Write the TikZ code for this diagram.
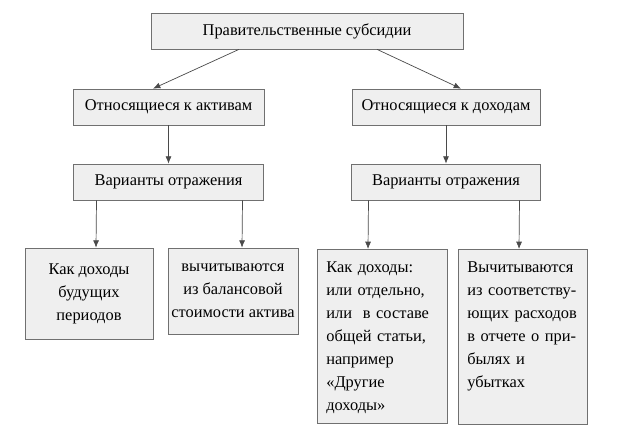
\documentclass[tikz,border=0pt]{standalone}
\usepackage{fontspec}
\setmainfont{Liberation Serif}
\usetikzlibrary{calc, arrows.meta}
\definecolor{boxfill}{HTML}{EFEFEF}
\definecolor{boxline}{HTML}{707070}
\definecolor{linkgray}{HTML}{4A4A4A}
\begin{document}
\begin{tikzpicture}[x=0.03cm, y=0.03cm, -{Latex[length=2.2mm, width=1.8mm]}, semithick, node distance=2.25cm,
    main/.style = {rectangle, draw=boxline, fill=boxfill, minimum height=1.08cm, inner sep=0pt,
                   font=\fontsize{14}{19.7}\selectfont},
    leaf/.style = {main, anchor=north, align=left, inner xsep=0.28cm, inner ysep=0.36cm}]
    \useasboundingbox (0,0) rectangle (636,-446);

    \node[main, minimum width=9.36cm] (1) at (307,-31) {Правительственные субсидии};
    \node[main, minimum width=5.73cm] (2) at (168.5,-107) {Относящиеся к активам};
    \node[main, minimum width=5.64cm] (3) at (446,-107) {Относящиеся к доходам};
    \node[main, minimum width=5.7cm] (4) [below of=2] {Варианты отражения};
    \node[main, minimum width=5.67cm] (5) [below of=3] {Варианты отражения};

    \node[main, align=center, minimum width=3.84cm, minimum height=2.73cm] (6) at (89,-293.5)
        {Как доходы\\будущих\\периодов};
    \node[main, align=center, minimum width=3.9cm, minimum height=2.58cm] (7) at (233,-291)
        {вычитываются\\из балансовой\\стоимости актива};
    \node[leaf, text width=3.34cm, text depth=4.17cm] (8) at (382,-249)
        {Как доходы:\\или отдельно,\\или\ \ в составе\\общей статьи,\\например\\«Другие\\доходы»};
    \node[leaf, text width=3.31cm, text depth=4.2cm] (9) at (522.5,-249)
        {Вычитываются\\из соответству-\\ющих расходов\\в отчете о при-\\былях и\\убытках};

    \draw[linkgray] ($(1.south)+(-68,0)$) -- ($(2.north)+(-15.5,0)$);
    \draw[linkgray] ($(1.south)+(70,0)$) -- ($(3.north)+(15,0)$);
    \draw[linkgray] (2) -- (4);
    \draw[linkgray] (3) -- (5);

    \draw[linkgray] ($(4.south)+(-72,0)$) -- ($(6.north)+(7,0)$);
    \draw[linkgray] ($(4.south)+(74,0)$) -- ($(7.north)+(9,0)$);
    \draw[linkgray] ($(5.south)+(-77.5,0)$) -- ($(8.north)+(-14,0)$);
    \draw[linkgray] ($(5.south)+(73.5,0)$) -- ($(9.north)+(-3.5,0)$);
\end{tikzpicture}
\end{document}
